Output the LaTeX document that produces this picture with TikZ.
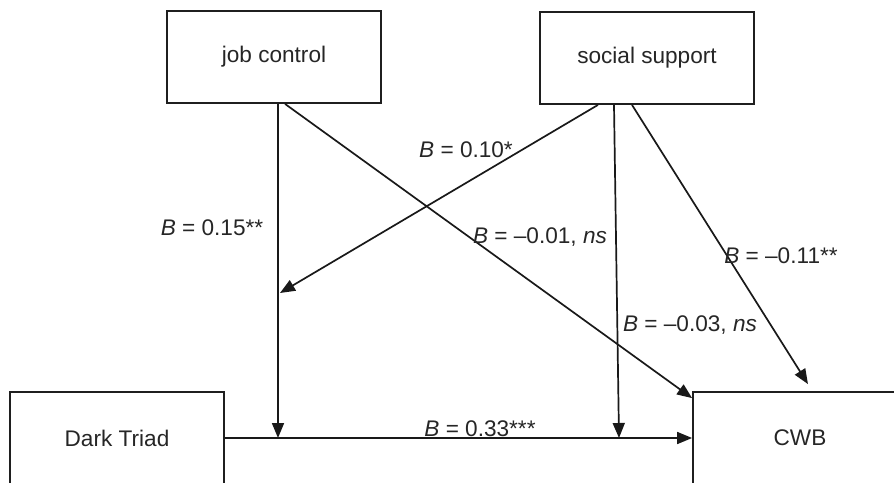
\documentclass[tikz,border=0pt]{standalone}
\usepackage{fontspec}
\setmainfont{Liberation Sans}
\usetikzlibrary{arrows.meta}
\begin{document}
\begin{tikzpicture}[x=1pt,y=-1pt,
 box/.style={draw=black!88,line width=1.8pt,minimum width=214pt,minimum height=92pt,inner sep=0pt,font=\fontsize{22.6}{27}\selectfont,text=black!85},
 lab/.style={inner sep=0pt,font=\fontsize{22.6}{27}\selectfont,text=black!85},
 arr/.style={draw=black!90,line width=1.7pt,-{Triangle[length=15pt,width=12pt]}},
 ]
\useasboundingbox (0,0) rectangle (894,482);
\clip (0,0) rectangle (894,482);
% boxes
\node[box] (jc) at (274,57) {job control};
\node[box] (ss) at (647,58) {social support};
\node[box] (dt) at (117,438) {Dark Triad};
\node[box] (cwb) at (800,438) {CWB};
% junction points
\coordinate (m1) at (278,438);
\coordinate (m2) at (619,438);
\coordinate (m3) at (280,293);
\coordinate (s1) at ([xshift=-49pt]ss.south);
\coordinate (s2) at ([xshift=-33pt]ss.south);
\coordinate (s3) at ([xshift=-15pt]ss.south);
\coordinate (j1) at ([xshift=11pt]jc.south);
% connectors
\draw[arr] (dt.east) -- (cwb.west);
\draw[arr] (jc.south -| m1) -- (m1);
\draw[arr] (j1) -- ([yshift=-7pt]cwb.north west);
\draw[arr] (s1) -- (m3);
\draw[arr] (s2) -- (m2);
\draw[arr] (s3) -- ([xshift=8pt,yshift=7pt]cwb.north);
% labels
\node[lab] (l1) at (212,228) {\textit{B} = 0.15**};
\node[lab] (l2) at (466,150) {\textit{B} = 0.10*};
\node[lab] (l3) at (540,237) {\textit{B} = –0.01, \textit{ns}};
\node[lab] (l4) at (690,325) {\textit{B} = –0.03, \textit{ns}};
\node[lab] (l5) at (781,256) {\textit{B} = –0.11**};
\node[lab] (l6) at (480,429) {\textit{B} = 0.33***};
\end{tikzpicture}
\end{document}
